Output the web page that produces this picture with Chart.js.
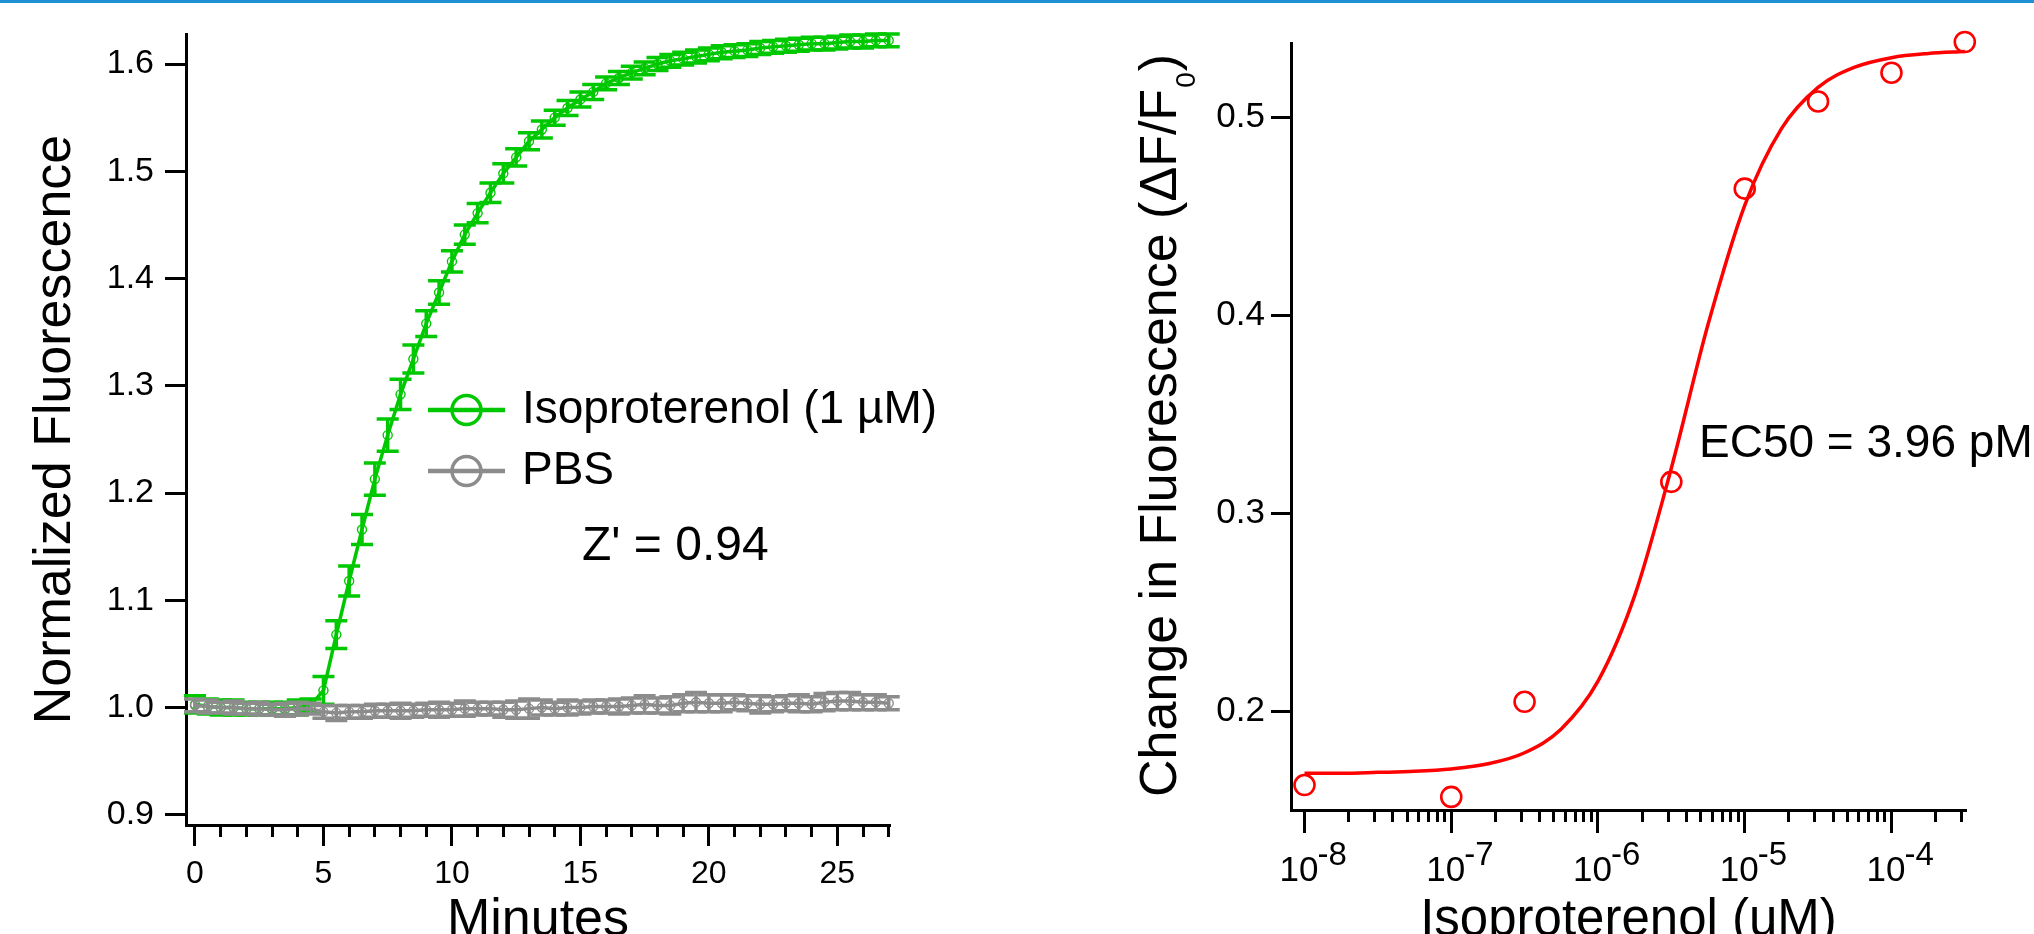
<!DOCTYPE html>
<html>
<head>
<meta charset="utf-8">
<title>Isoproterenol response</title>
<script src="https://cdn.jsdelivr.net/npm/chart.js@4.4.1/dist/chart.umd.min.js"></script>
<style>
  html, body { margin: 0; padding: 0; background: #fff; }
  #page { position: relative; width: 2034px; height: 934px; overflow: hidden; background: #fff; }
  #topline { position: absolute; left: 0; top: 0; width: 2034px; height: 3px; background: #1e90d4; z-index: 2; }
  #left { position: absolute; left: 0; top: 0; }
  #right { position: absolute; left: 1000px; top: 0; }
</style>
</head>
<body>
<div id="page">
  <div id="topline"></div>
  <canvas id="left" width="1000" height="960"></canvas>
  <canvas id="right" width="1034" height="960"></canvas>
</div>
<script>
// ---- time course (left panel) ----
var minutes = [0, 0.5, 1, 1.5, 2, 2.5, 3, 3.5, 4, 4.5, 5, 5.5, 6, 6.5, 7, 7.5, 8, 8.5, 9, 9.5,
  10, 10.5, 11, 11.5, 12, 12.5, 13, 13.5, 14, 14.5, 15, 15.5, 16, 16.5, 17, 17.5, 18, 18.5, 19, 19.5,
  20, 20.5, 21, 21.5, 22, 22.5, 23, 23.5, 24, 24.5, 25, 25.5, 26, 26.5, 27];
var isoValues = [1.003, 1.001, 1.000, 1.000, 0.999, 0.999, 0.999, 0.999, 1.000, 1.002,
  1.016, 1.068, 1.118, 1.166, 1.213, 1.254, 1.292, 1.325, 1.358, 1.387,
  1.416, 1.441, 1.461, 1.480, 1.498, 1.513, 1.528, 1.539, 1.550, 1.559,
  1.567, 1.574, 1.582, 1.587, 1.592, 1.596, 1.600, 1.603, 1.605, 1.607,
  1.609, 1.611, 1.612, 1.613, 1.615, 1.616, 1.617, 1.618, 1.619, 1.619,
  1.620, 1.621, 1.621, 1.622, 1.622];
var isoErrors = [0.008, 0.007, 0.007, 0.007, 0.006, 0.006, 0.006, 0.006, 0.007, 0.006,
  0.013, 0.013, 0.014, 0.014, 0.015, 0.015, 0.014, 0.013, 0.012, 0.011,
  0.010, 0.009, 0.009, 0.009, 0.009, 0.008, 0.008, 0.008, 0.007, 0.007,
  0.007, 0.007, 0.006, 0.006, 0.006, 0.006, 0.006, 0.006, 0.006, 0.006,
  0.006, 0.006, 0.006, 0.006, 0.006, 0.006, 0.006, 0.006, 0.006, 0.006,
  0.006, 0.006, 0.006, 0.006, 0.006];
var pbsValues = [1.002, 1.001, 1.000, 1.000, 0.999, 0.999, 0.998, 0.998, 0.999, 0.999,
  0.996, 0.995, 0.996, 0.996, 0.997, 0.997, 0.997, 0.997, 0.998, 0.998,
  0.998, 0.999, 0.999, 0.999, 0.998, 0.998, 0.999, 1.000, 0.999, 1.000,
  1.000, 1.001, 1.001, 1.001, 1.002, 1.003, 1.002, 1.002, 1.004, 1.005,
  1.004, 1.004, 1.005, 1.004, 1.003, 1.003, 1.004, 1.004, 1.003, 1.005,
  1.006, 1.006, 1.005, 1.005, 1.004];
var pbsErrors = [0.006, 0.006, 0.005, 0.006, 0.005, 0.006, 0.005, 0.006, 0.006, 0.005,
  0.006, 0.007, 0.006, 0.006, 0.006, 0.006, 0.007, 0.006, 0.006, 0.007,
  0.006, 0.007, 0.006, 0.006, 0.007, 0.008, 0.009, 0.007, 0.006, 0.007,
  0.006, 0.006, 0.006, 0.007, 0.007, 0.008, 0.007, 0.008, 0.008, 0.009,
  0.008, 0.008, 0.007, 0.007, 0.008, 0.007, 0.007, 0.008, 0.007, 0.008,
  0.008, 0.008, 0.007, 0.007, 0.006];
var minuteTicks = [0, 5, 10, 15, 20, 25];
var minuteMinorTicks = [0, 1, 2, 3, 4, 5, 6, 7, 8, 9, 10, 11, 12, 13, 14, 15, 16, 17, 18, 19, 20, 21, 22, 23, 24, 25, 26, 27];
var fluorTicks = [0.9, 1.0, 1.1, 1.2, 1.3, 1.4, 1.5, 1.6];

// ---- dose response (right panel) ----
var doses = [1e-8, 1e-7, 3.16e-7, 3.16e-6, 1e-5, 3.16e-5, 1e-4, 3.16e-4];
var responses = [0.163, 0.157, 0.205, 0.316, 0.464, 0.508, 0.5225, 0.538];
var fitDoses = [1e-8, 1.78e-8, 3.16e-8, 5.62e-8, 1e-7, 1.78e-7, 3.16e-7, 5.62e-7, 1e-6, 1.78e-6,
  3.16e-6, 5.62e-6, 1e-5, 1.78e-5, 3.16e-5, 5.62e-5, 1e-4, 1.78e-4, 3.16e-4];
var fitResponses = [0.169, 0.169, 0.1694, 0.1699, 0.1711, 0.1737, 0.1793, 0.1913, 0.2154, 0.2587,
  0.3229, 0.3954, 0.4556, 0.4943, 0.5151, 0.5253, 0.5301, 0.5322, 0.5332];
var decadeTicks = [1e-8, 1e-7, 1e-6, 1e-5, 1e-4];
var minorMantissas = [2, 3, 4, 5, 6, 7, 8, 9];
var responseTicks = [0.2, 0.3, 0.4, 0.5];

var GREEN = '#00c800';
var GRAY = '#8c8c8c';
var RED = '#ff0000';
var FONT = "'Liberation Sans', Arial, Helvetica, sans-serif";

Chart.defaults.font.family = FONT;
Chart.defaults.color = '#000';

function fixedWidth(w) { return function (s) { s.width = w; }; }
function fixedHeight(h) { return function (s) { s.height = h; }; }
function useTicks(list) {
  return function (s) { s.ticks = list.map(function (v) { return { value: v }; }); };
}
function axisStyle(tickLen) {
  return {
    border: { display: true, color: '#000', width: 3 },
    grid: { display: true, drawOnChartArea: false, drawTicks: true, tickLength: tickLen, tickWidth: 3, tickColor: '#000' }
  };
}

// error bars drawn under each dataset's line and markers
var errorBars = {
  id: 'errorBars',
  beforeDatasetDraw: function (chart, args) {
    var ds = chart.data.datasets[args.index];
    if (!ds.errors) return;
    var ctx = chart.ctx, y = chart.scales.y;
    ctx.save();
    ctx.strokeStyle = ds.borderColor;
    ctx.lineWidth = 3.5;
    args.meta.data.forEach(function (pt, i) {
      var v = ds.data[i].y, e = ds.errors[i];
      var top = y.getPixelForValue(v + e), bot = y.getPixelForValue(v - e);
      ctx.beginPath();
      ctx.moveTo(pt.x, top); ctx.lineTo(pt.x, bot);
      ctx.moveTo(pt.x - 11, top); ctx.lineTo(pt.x + 11, top);
      ctx.moveTo(pt.x - 11, bot); ctx.lineTo(pt.x + 11, bot);
      ctx.stroke();
    });
    ctx.restore();
  }
};

var timeLegend = {
  id: 'timeLegend',
  afterDraw: function (chart) {
    var ctx = chart.ctx;
    var rows = [410, 471];
    ctx.save();
    chart.data.datasets.forEach(function (ds, i) {
      var y = rows[i];
      ctx.strokeStyle = ds.borderColor;
      ctx.lineWidth = 4.5;
      ctx.beginPath(); ctx.moveTo(428, y); ctx.lineTo(505, y); ctx.stroke();
      ctx.lineWidth = 3.5;
      ctx.beginPath(); ctx.arc(466.5, y, 14.5, 0, Math.PI * 2); ctx.stroke();
      ctx.fillStyle = '#000';
      ctx.font = '46px ' + FONT;
      ctx.textBaseline = 'middle';
      ctx.textAlign = 'left';
      ctx.fillText(ds.label, 522, y);
    });
    ctx.font = '48px ' + FONT;
    ctx.fillText("Z' = 0.94", 582, 547);
    ctx.restore();
  }
};

new Chart(document.getElementById('left'), {
  type: 'line',
  data: {
    datasets: [{
      label: 'Isoproterenol (1 µM)',
      data: minutes.map(function (t, i) { return { x: t, y: isoValues[i] }; }),
      errors: isoErrors,
      borderColor: GREEN, borderWidth: 3.5,
      pointRadius: 4.5, pointBorderWidth: 1.4, pointBorderColor: GREEN, pointBackgroundColor: 'rgba(0,0,0,0)',
      clip: false, order: 1
    }, {
      label: 'PBS',
      data: minutes.map(function (t, i) { return { x: t, y: pbsValues[i] }; }),
      errors: pbsErrors,
      borderColor: GRAY, borderWidth: 3.5,
      pointRadius: 4.5, pointBorderWidth: 1.4, pointBorderColor: GRAY, pointBackgroundColor: 'rgba(0,0,0,0)',
      clip: false, order: 0
    }]
  },
  options: {
    responsive: false, animation: false, events: [],
    layout: { padding: { left: 0, top: 34, right: 110, bottom: 0 } },
    plugins: { legend: { display: false }, tooltip: { enabled: false } },
    scales: {
      x: Object.assign({
        type: 'linear', position: 'bottom', min: -0.35, max: 27.05, bounds: 'data', weight: 1,
        afterBuildTicks: useTicks(minuteTicks), afterFit: fixedHeight(135),
        ticks: { font: { size: 32 }, padding: 9, autoSkip: false, maxRotation: 0, callback: function (v) { return String(v); } },
        title: { display: true, text: 'Minutes', font: { size: 52 }, padding: { top: 0, bottom: 8 } }
      }, axisStyle(21)),
      xMinor: {
        type: 'linear', position: 'bottom', min: -0.35, max: 27.05, bounds: 'data', weight: 0,
        afterBuildTicks: useTicks(minuteMinorTicks), afterFit: fixedHeight(0),
        ticks: { display: false },
        border: { display: false },
        grid: { display: true, drawOnChartArea: false, drawTicks: true, tickLength: 12, tickWidth: 3, tickColor: '#000' }
      },
      y: Object.assign({
        type: 'linear', position: 'left', min: 0.8905, max: 1.628, bounds: 'data',
        afterBuildTicks: useTicks(fluorTicks), afterFit: fixedWidth(186),
        ticks: { font: { size: 34 }, padding: 11, callback: function (v) { return v.toFixed(1); } },
        title: { display: true, text: 'Normalized Fluorescence', font: { size: 52 }, padding: { top: 24, bottom: 0 } }
      }, axisStyle(21))
    }
  },
  plugins: [errorBars, timeLegend]
});

// 10 with a raised exponent under each decade tick
var decadeLabels = {
  id: 'decadeLabels',
  afterDraw: function (chart) {
    var ctx = chart.ctx, x = chart.scales.x;
    ctx.save();
    ctx.fillStyle = '#000';
    ctx.textBaseline = 'alphabetic';
    decadeTicks.forEach(function (v) {
      var px = x.getPixelForValue(v);
      var exp = Math.round(Math.log10(v));
      ctx.font = '35px ' + FONT;
      ctx.textAlign = 'right';
      ctx.fillText('10', px + 14, x.top + 71);
      ctx.font = '33px ' + FONT;
      ctx.textAlign = 'left';
      ctx.fillText(String(exp), px + 13, x.top + 55);
    });
    ctx.restore();
  }
};

var responseText = {
  id: 'responseText',
  afterDraw: function (chart) {
    var ctx = chart.ctx, area = chart.chartArea;
    ctx.save();
    ctx.fillStyle = '#000';
    // y axis title with subscript
    ctx.translate(176, (area.top + area.bottom) / 2);
    ctx.rotate(-Math.PI / 2);
    var main = 'Change in Fluorescence (ΔF/F', sub = '0', close = ')';
    ctx.font = '52px ' + FONT;
    var wMain = ctx.measureText(main).width, wClose = ctx.measureText(close).width;
    ctx.font = '28px ' + FONT;
    var wSub = ctx.measureText(sub).width;
    var x0 = -(wMain + wSub + wClose) / 2;
    ctx.textAlign = 'left';
    ctx.textBaseline = 'alphabetic';
    ctx.font = '52px ' + FONT;
    ctx.fillText(main, x0, 0);
    ctx.fillText(close, x0 + wMain + wSub + 2, 0);
    ctx.font = '28px ' + FONT;
    ctx.fillText(sub, x0 + wMain + 1, 19);
    ctx.restore();

    ctx.save();
    ctx.fillStyle = '#000';
    ctx.font = '46px ' + FONT;
    ctx.textAlign = 'left';
    ctx.textBaseline = 'middle';
    ctx.fillText('EC50 = 3.96 pM', 699, 444);
    ctx.restore();
  }
};

var minorDoseTicks = [];
decadeTicks.forEach(function (d) {
  minorMantissas.forEach(function (m) {
    if (m * d <= 3.2e-4) minorDoseTicks.push(m * d);
  });
});

new Chart(document.getElementById('right'), {
  type: 'scatter',
  data: {
    datasets: [{
      label: 'Isoproterenol',
      data: doses.map(function (d, i) { return { x: d, y: responses[i] }; }),
      showLine: false,
      pointRadius: 10, pointBorderWidth: 2.6, pointBorderColor: RED, pointBackgroundColor: 'rgba(0,0,0,0)',
      clip: false, order: 0
    }, {
      label: 'fit',
      data: fitDoses.map(function (d, i) { return { x: d, y: fitResponses[i] }; }),
      showLine: true, borderColor: RED, borderWidth: 3.5, pointRadius: 0,
      cubicInterpolationMode: 'monotone',
      clip: false, order: 1
    }]
  },
  options: {
    responsive: false, animation: false, events: [],
    layout: { padding: { left: 0, top: 43, right: 68, bottom: 0 } },
    plugins: { legend: { display: false }, tooltip: { enabled: false } },
    scales: {
      x: Object.assign({
        type: 'logarithmic', position: 'bottom', min: 8.09e-9, max: 3.22e-4, bounds: 'data', weight: 1,
        afterBuildTicks: useTicks(decadeTicks), afterFit: fixedHeight(150),
        ticks: { display: false },
        title: { display: true, text: 'Isoproterenol (uM)', font: { size: 51 }, padding: { top: 0, bottom: 8 } }
      }, axisStyle(23)),
      xMinor: {
        type: 'logarithmic', position: 'bottom', min: 8.09e-9, max: 3.22e-4, bounds: 'data', weight: 0,
        afterBuildTicks: useTicks(minorDoseTicks), afterFit: fixedHeight(0),
        ticks: { display: false },
        border: { display: false },
        grid: { display: true, drawOnChartArea: false, drawTicks: true, tickLength: 12, tickWidth: 3, tickColor: '#000' }
      },
      y: Object.assign({
        type: 'linear', position: 'left', min: 0.1504, max: 0.5375, bounds: 'data',
        afterBuildTicks: useTicks(responseTicks), afterFit: fixedWidth(291),
        ticks: { font: { size: 35 }, padding: 6, callback: function (v) { return v.toFixed(1); } }
      }, axisStyle(20))
    }
  },
  plugins: [decadeLabels, responseText]
});
</script>
</body>
</html>
